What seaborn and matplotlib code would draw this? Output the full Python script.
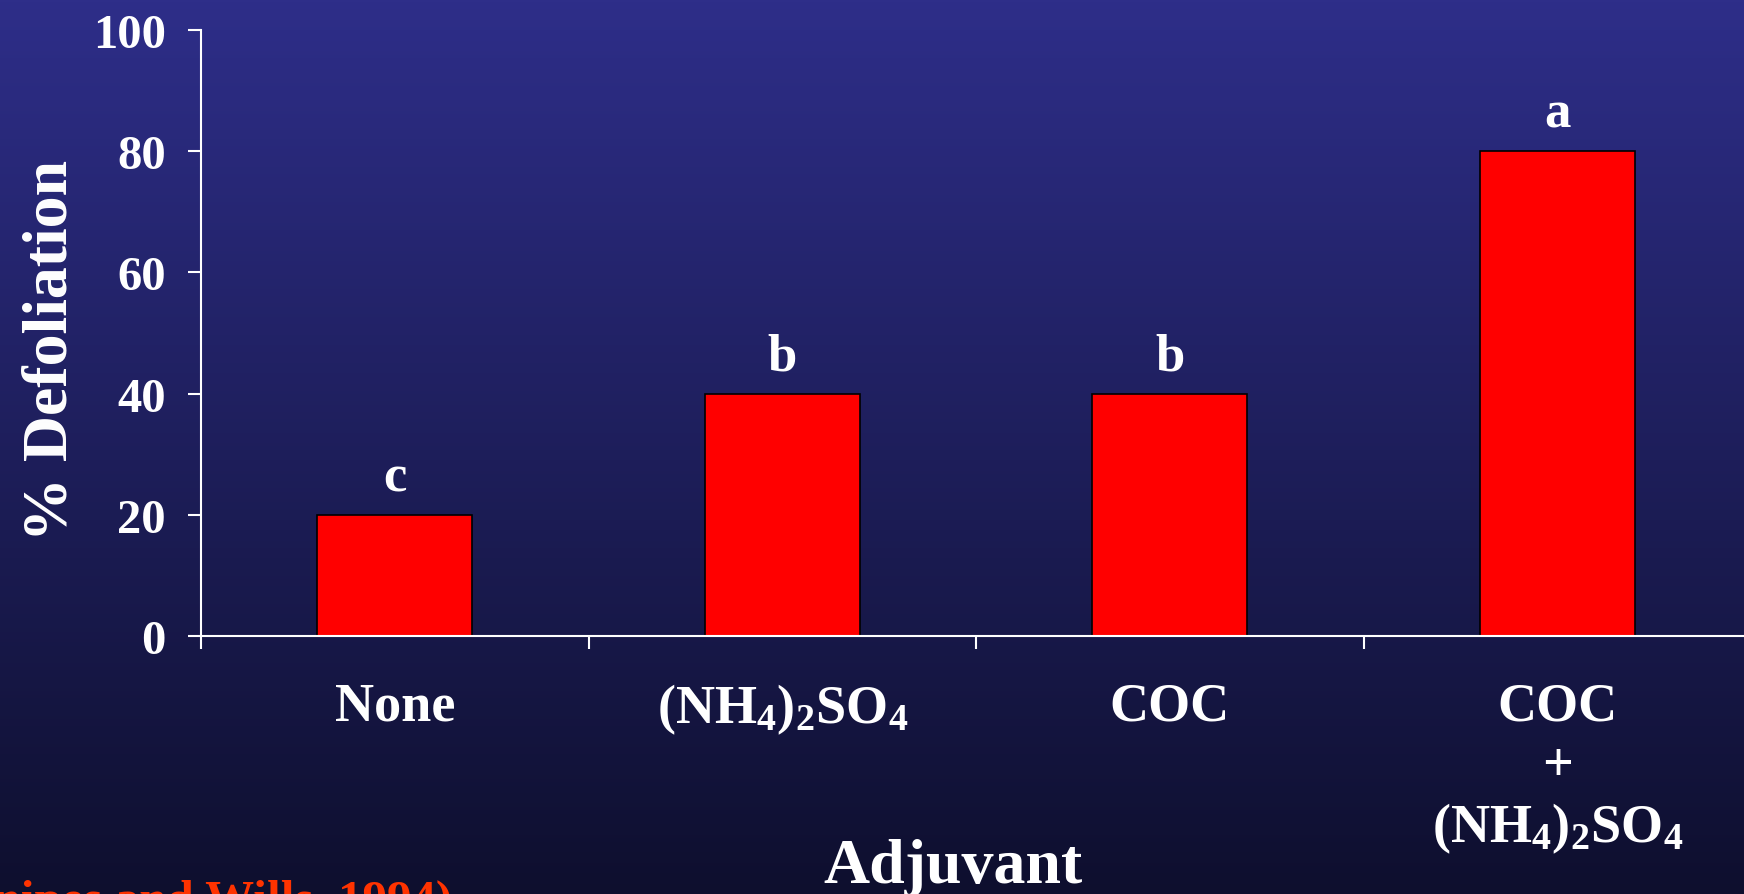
#!/usr/bin/env python3
"""Percent defoliation by adjuvant, slide-style bar chart."""

import numpy as np
import seaborn as sns
from matplotlib import pyplot as plt
from matplotlib.colors import LinearSegmentedColormap

adjuvants = ["None", "(NH$_4$)$_2$SO$_4$", "COC", "COC\n+\n(NH$_4$)$_2$SO$_4$"]
defoliation = [20, 40, 40, 80]
letters = ["c", "b", "b", "a"]
yticks = [0, 20, 40, 60, 80, 100]
citation = "(Snipes and Wills, 1994)"

W, H = 1744, 895

sns.set_theme(style="white")
plt.rcParams["font.family"] = ["Liberation Serif", "DejaVu Serif"]
plt.rcParams["font.weight"] = "bold"
plt.rcParams["mathtext.fontset"] = "custom"
plt.rcParams["mathtext.rm"] = "Liberation Serif:bold"
plt.rcParams["mathtext.default"] = "rm"

fig = plt.figure(figsize=(W / 100, H / 100), dpi=100)

# background gradient
bg = fig.add_axes([0, 0, 1, 1], zorder=0)
grad = np.linspace(0, 1, 256).reshape(-1, 1)
cmap = LinearSegmentedColormap.from_list("bg", ["#2e2e89", "#0e0f2e"])
bg.imshow(grad, aspect="auto", cmap=cmap, extent=[0, 1, 0, 1], origin="upper")
bg.axis("off")

ax = fig.add_axes([201 / W, 258 / H, 1550 / W, 606 / H], zorder=1)
ax.patch.set_alpha(0)

sns.barplot(x=adjuvants, y=defoliation, ax=ax, color="#ff0000", saturation=1,
            edgecolor="black", linewidth=1.2, width=0.4)

for i, (v, lab) in enumerate(zip(defoliation, letters)):
    ax.text(i, v + 4, lab, ha="center", va="baseline", fontsize=38,
            color="white", fontweight="bold")

ax.set_ylim(0, 100)
ax.set_xlim(-0.5, 3.5)
ax.set_yticks(yticks)
ax.set_yticklabels([str(t) for t in yticks], fontsize=35, color="white", fontweight="bold")
ax.set_xticks(range(len(adjuvants)))
ax.set_xticklabels(adjuvants, fontsize=39, color="white", fontweight="bold",
                   va="top", linespacing=1.24)
ax.set_xticks([-0.5, 0.5, 1.5, 2.5], minor=True)

ax.tick_params(axis="y", direction="out", length=9.4, width=1.5, color="white", pad=16, left=True)
ax.tick_params(axis="x", which="major", length=0, pad=33, bottom=True)
ax.tick_params(axis="x", which="minor", direction="out", length=9.4, width=1.5,
               color="white", bottom=True)

sns.despine(ax=ax)
for side in ("left", "bottom"):
    ax.spines[side].set_color("white")
    ax.spines[side].set_linewidth(1.5)

ax.set_xlabel("Adjuvant", fontsize=46, color="white", fontweight="bold", va="center")
ax.xaxis.set_label_coords((953 - 201) / 1550, (637 - 868) / 606)
ax.set_ylabel("% Defoliation", fontsize=46, color="white", fontweight="bold", va="center")
ax.yaxis.set_label_coords((52 - 201) / 1550, (637 - 350) / 606)

fig.text(452 / W, (H - 914) / H, citation, ha="right", va="baseline",
         fontsize=35.3, color="#ff3300", fontweight="bold")

fig.savefig("out.png", dpi=100)
plt.close(fig)
